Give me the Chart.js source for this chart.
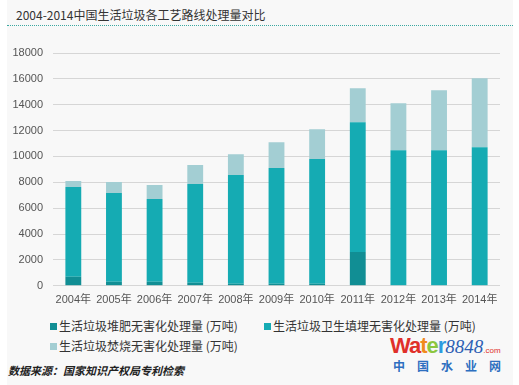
<!DOCTYPE html>
<html>
<head>
<meta charset="utf-8">
<script src="https://cdn.jsdelivr.net/npm/chart.js@4"></script>
<style>
    body { margin: 0; background: #fff; width: 519px; height: 385px; overflow: hidden; }
    #panel { position: absolute; left: 7px; top: 0; width: 506px; height: 385px; background: #f8f8f8; }
    #title {
        position: absolute; left: 16px; top: 6px; font: 12px "Noto Sans CJK SC", sans-serif; color: #333;
        white-space: nowrap;
    }
    #rule { position: absolute; left: 7px; top: 25px; width: 506px; border-top: 1px dotted #3aa8a0; }
    #wrap { position: absolute; left: 0; top: 30px; width: 519px; height: 287px; }
    #legend { position: absolute; left: 50px; top: 318px; width: 460px; font: 12px "Noto Sans CJK SC", sans-serif; color: #333; }
    .item { position: absolute; white-space: nowrap; line-height: 16px; }
    .item i { display: inline-block; width: 7px; height: 7px; margin-right: 2px; vertical-align: 1px; }
    #source {
        position: absolute; left: 8px; top: 362px; font: italic bold 11px "Noto Sans CJK SC", sans-serif; color: #222;
        white-space: nowrap;
    }
    #logo { position: absolute; left: 390px; top: 334px; width: 124px; }
    #logo .en { font: bold 22px "Liberation Sans", sans-serif; letter-spacing: -1px; white-space: nowrap; line-height: 24px; }
    #logo .en em { font: italic 19px "Liberation Serif", serif; color: #2d5fb4; letter-spacing: 0; }
    #logo .en small { font: 8px "Liberation Sans", sans-serif; color: #e0302a; letter-spacing: 0; }
    #logo .cn { font: bold 12px "Noto Sans CJK SC", sans-serif; color: #2d6fc0; letter-spacing: 12px; margin-left: 3px; margin-top: -1px; }
</style>
</head>
<body>
<div id="panel"></div>
<div id="title">2004-2014中国生活垃圾各工艺路线处理量对比</div>
<div id="rule"></div>
<div id="wrap"><canvas id="chart"></canvas></div>
<div id="legend"></div>
<div id="source">数据来源：国家知识产权局专利检索</div>
<div id="logo">
    <div class="en"><span style="color:#e0302a">W</span><span style="color:#e0302a">a</span><span style="color:#f08a1c">t</span><span style="color:#8cc63f">e</span><span style="color:#2d9be0">r</span><em>8848</em><small>.com</small></div>
    <div class="cn">中国水业网</div>
</div>
<script>
const years = ["2004年", "2005年", "2006年", "2007年", "2008年", "2009年", "2010年", "2011年", "2012年", "2013年", "2014年"];
const compost = [700, 310, 310, 230, 160, 150, 150, 2620, 0, 0, 0];
const landfill = [6940, 6860, 6400, 7640, 8400, 8950, 9650, 10030, 10490, 10490, 10720];
const incineration = [460, 850, 1080, 1470, 1620, 2000, 2310, 2620, 3630, 4630, 5320];
const yTicks = [0, 2000, 4000, 6000, 8000, 10000, 12000, 14000, 16000, 18000];

const seriesNames = ["生活垃圾堆肥无害化处理量 (万吨)", "生活垃圾卫生填埋无害化处理量 (万吨)", "生活垃圾焚烧无害化处理量 (万吨)"];
const seriesColors = ["#118e94", "#15abb3", "#a3ced3"];

const loadChart = () => {
    const ctx = document.getElementById("chart").getContext("2d");

    const datasets = [compost, landfill, incineration].map((data, i) => ({
        label: seriesNames[i],
        data,
        backgroundColor: seriesColors[i],
        borderWidth: 0,
        barPercentage: 0.39,
        categoryPercentage: 1
    }));

    const chart = new Chart(ctx, {
        type: "bar",
        data: { labels: years, datasets },
        options: {
            responsive: true,
            maintainAspectRatio: false,
            animation: false,
            layout: { padding: { top: 23, right: 19, bottom: 2, left: 0 } },
            plugins: {
                legend: { display: false },
                tooltip: { enabled: false }
            },
            scales: {
                x: {
                    stacked: true,
                    grid: { display: false, drawTicks: false },
                    border: { display: false },
                    ticks: {
                        padding: 8,
                        maxRotation: 0,
                        minRotation: 0,
                        autoSkip: false,
                        color: "#555",
                        font: { family: "'Liberation Sans', 'Noto Sans CJK SC'", size: 11 }
                    }
                },
                y: {
                    stacked: true,
                    min: 0,
                    max: 18000,
                    afterFit: scale => { scale.width = 53; },
                    afterBuildTicks: scale => { scale.ticks = yTicks.map(value => ({ value })); },
                    grid: { color: "#d6d6d6", drawTicks: false },
                    border: { display: false },
                    ticks: {
                        padding: 10,
                        color: "#555",
                        callback: value => String(value),
                        font: { family: "'Liberation Sans'", size: 11 }
                    }
                }
            }
        }
    });

    // legend in two columns like the original
    const legend = document.getElementById("legend");
    const spots = [[0, 0], [214, 0], [0, 20]];
    chart.data.datasets.forEach((ds, i) => {
        const item = document.createElement("div");
        item.className = "item";
        item.style.left = spots[i][0] + "px";
        item.style.top = spots[i][1] + "px";
        item.innerHTML = `<i style="background:${ds.backgroundColor}"></i>${ds.label}`;
        legend.appendChild(item);
    });
}

window.onload = () => loadChart();
</script>
</body>
</html>
